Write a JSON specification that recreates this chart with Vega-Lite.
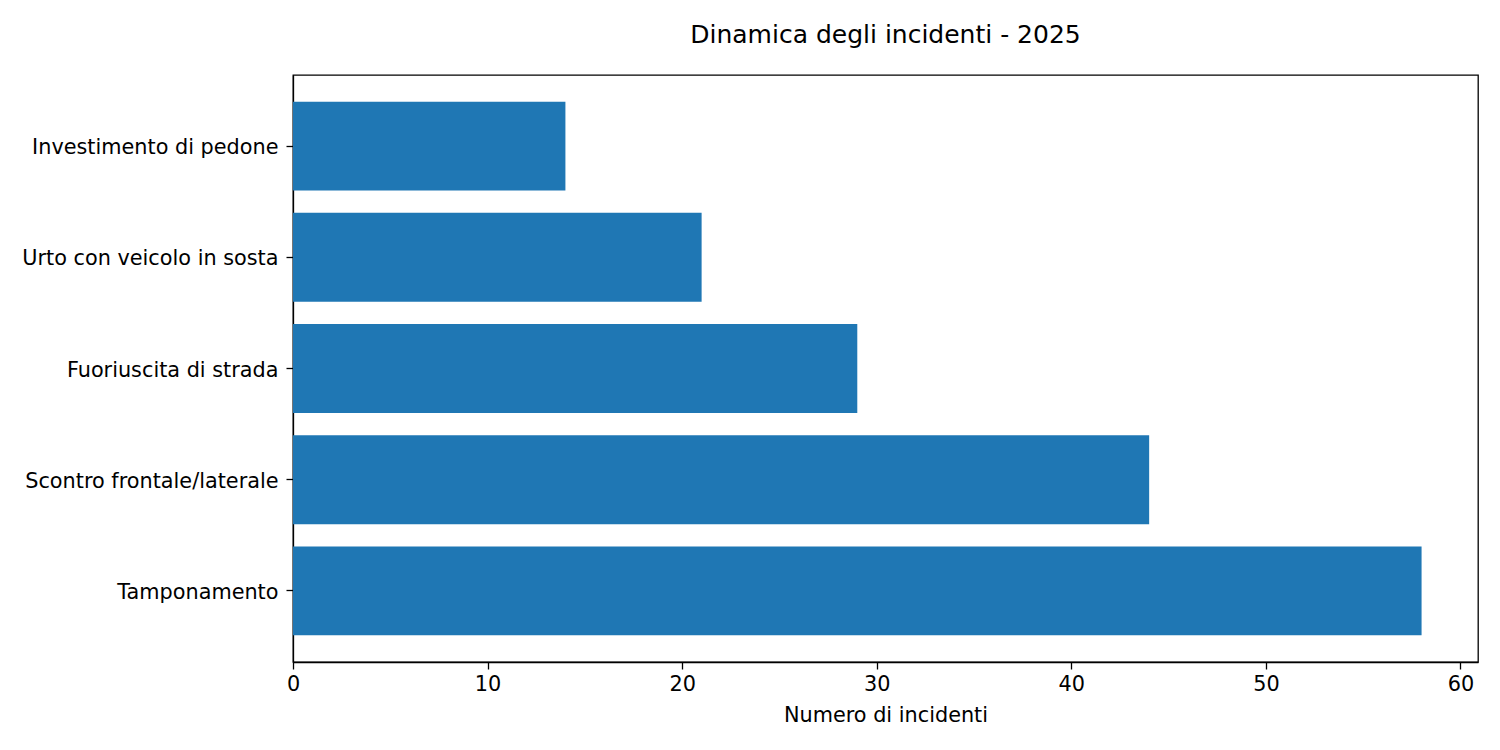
{
  "$schema": "https://vega.github.io/schema/vega-lite/v6.json",
  "autosize": {"type": "none"},
  "padding": {"left": 293, "top": 75, "right": 22, "bottom": 88},
  "width": 1185,
  "height": 587,
  "background": "white",
  "title": {"text": "Dinamica degli incidenti - 2025", "font": "DejaVu Sans", "fontSize": 25, "fontWeight": "normal", "color": "black", "baseline": "alphabetic", "offset": 7},
  "config": {
    "view": {"stroke": "black", "strokeWidth": 1.3},
    "axis": {"labelFont": "DejaVu Sans", "titleFont": "DejaVu Sans", "labelFontSize": 20.8, "titleFontSize": 20.8, "titleFontWeight": "normal", "labelColor": "black", "titleColor": "black", "domainColor": "black", "domainWidth": 1.3, "tickColor": "black", "tickWidth": 1.3, "tickSize": 7, "grid": false}
  },
  "data": {"values": [
    {"dinamica": "Investimento di pedone", "n": 14},
    {"dinamica": "Urto con veicolo in sosta", "n": 21},
    {"dinamica": "Fuoriuscita di strada", "n": 29},
    {"dinamica": "Scontro frontale/laterale", "n": 44},
    {"dinamica": "Tamponamento", "n": 58}
  ]},
  "mark": {"type": "bar", "color": "#1f77b4"},
  "encoding": {
    "y": {"field": "dinamica", "type": "nominal", "sort": ["Investimento di pedone", "Urto con veicolo in sosta", "Fuoriuscita di strada", "Scontro frontale/laterale", "Tamponamento"], "scale": {"paddingInner": 0.2, "paddingOuter": 0.24}, "axis": {"title": null, "labelPadding": 8, "labelLimit": 400, "labelOffset": 2}},
    "x": {"field": "n", "type": "quantitative", "scale": {"domain": [0, 60.9], "nice": false, "zero": true}, "axis": {"title": "Numero di incidenti", "values": [0, 10, 20, 30, 40, 50, 60], "labelPadding": 5, "titlePadding": 12, "labelFlush": false}}
  }
}
